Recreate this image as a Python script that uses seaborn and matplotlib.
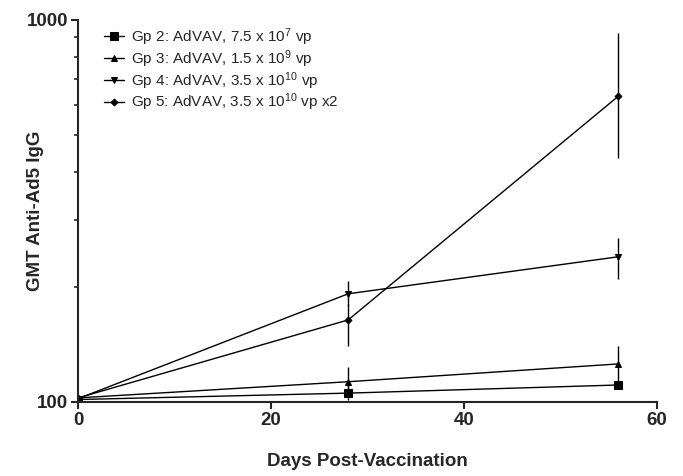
import matplotlib
matplotlib.use("Agg")
import matplotlib.pyplot as plt
import seaborn as sns
import pandas as pd
from matplotlib.ticker import FixedLocator, NullFormatter, FixedFormatter

# ---- data ----
days = [0, 28, 56]
groups = ["Gp 2: AdVAV, 7.5 x 10$^{7}$ vp",
          "Gp 3: AdVAV, 1.5 x 10$^{9}$ vp",
          "Gp 4: AdVAV, 3.5 x 10$^{10}$ vp",
          "Gp 5: AdVAV, 3.5 x 10$^{10}$ vp x2"]
gp2 = [101.5, 105.5, 110.8]
gp3 = [102.5, 113.0, 125.8]
gp4 = [102.0, 192.0, 240.0]
gp5 = [102.5, 164.0, 632.0]
gp2_lo = [101.0, 101.0, 110.0]
gp2_hi = [102.0, 110.0, 111.5]
gp3_lo = [102.0, 106.0, 111.0]
gp3_hi = [103.0, 123.5, 140.0]
gp4_lo = [101.5, 178.0, 210.0]
gp4_hi = [102.5, 207.0, 268.0]
gp5_lo = [102.0, 140.0, 435.0]
gp5_hi = [103.0, 180.0, 925.0]
markers = ["s", "^", "v", "D"]
msizes = [5.5, 5.0, 5.0, 3.5]

values = [gp2, gp3, gp4, gp5]
lows = [gp2_lo, gp3_lo, gp4_lo, gp5_lo]
highs = [gp2_hi, gp3_hi, gp4_hi, gp5_hi]

rows = []
for g, vals in zip(groups, values):
    for d, v in zip(days, vals):
        rows.append({"day": d, "gmt": v, "group": g})
df = pd.DataFrame(rows)

sns.set_style("ticks")
plt.rcParams["font.family"] = ["Liberation Sans", "DejaVu Sans"]
plt.rcParams["mathtext.fontset"] = "custom"
plt.rcParams["mathtext.rm"] = "Liberation Sans"
plt.rcParams["mathtext.it"] = "Liberation Sans"
plt.rcParams["mathtext.bf"] = "Liberation Sans:bold"

fig = plt.figure(figsize=(6.83, 4.76), dpi=100)
ax = fig.add_axes([78/683, 1-402/476, (657-78)/683, (402-20)/476])

for i, g in enumerate(groups):
    sub = df[df["group"] == g]
    sns.lineplot(data=sub, x="day", y="gmt", ax=ax, color="black",
                 marker=markers[i], markersize=msizes[i], linewidth=1.0,
                 markeredgecolor="black", label=g, legend=False)
    ax.vlines(days, lows[i], highs[i], color="black", linewidth=1.0)
handles = ax.get_lines()

ax.set_yscale("log")
ax.set_xlim(0, 60)
ax.set_ylim(100, 1000)
ax.set_xticks([0, 20, 40, 60])
ax.yaxis.set_major_locator(FixedLocator([100, 1000]))
ax.yaxis.set_major_formatter(FixedFormatter(["100", "1000"]))
ax.yaxis.set_minor_locator(FixedLocator([200, 300, 400, 500, 600, 700, 800, 900]))
ax.yaxis.set_minor_formatter(NullFormatter())
ax.tick_params(axis="both", which="major", direction="out", length=5, width=1.5,
               labelsize=13.5, pad=2)
ax.tick_params(axis="y", which="minor", direction="out", length=3, width=1.2)
for lab in ax.get_xticklabels() + ax.get_yticklabels():
    lab.set_fontweight("bold")
for s in ["left", "bottom"]:
    ax.spines[s].set_linewidth(1.5)
sns.despine(ax=ax)
ax.set_xlabel("Days Post-Vaccination", fontsize=13.5, fontweight="bold", va="center")
ax.set_ylabel("GMT Anti-Ad5 IgG", fontsize=13.5, fontweight="bold", va="center")
ax.xaxis.set_label_coords(0.5, -0.157)
ax.yaxis.set_label_coords(-0.074, 0.5)

ax.legend(handles=handles, labels=groups, loc="upper left", frameon=False,
          fontsize=11, handlelength=1.3, handletextpad=0.45, labelspacing=0.02,
          borderaxespad=0.0, bbox_to_anchor=(0.035, 1.0))

fig.savefig("out.png", dpi=100)
